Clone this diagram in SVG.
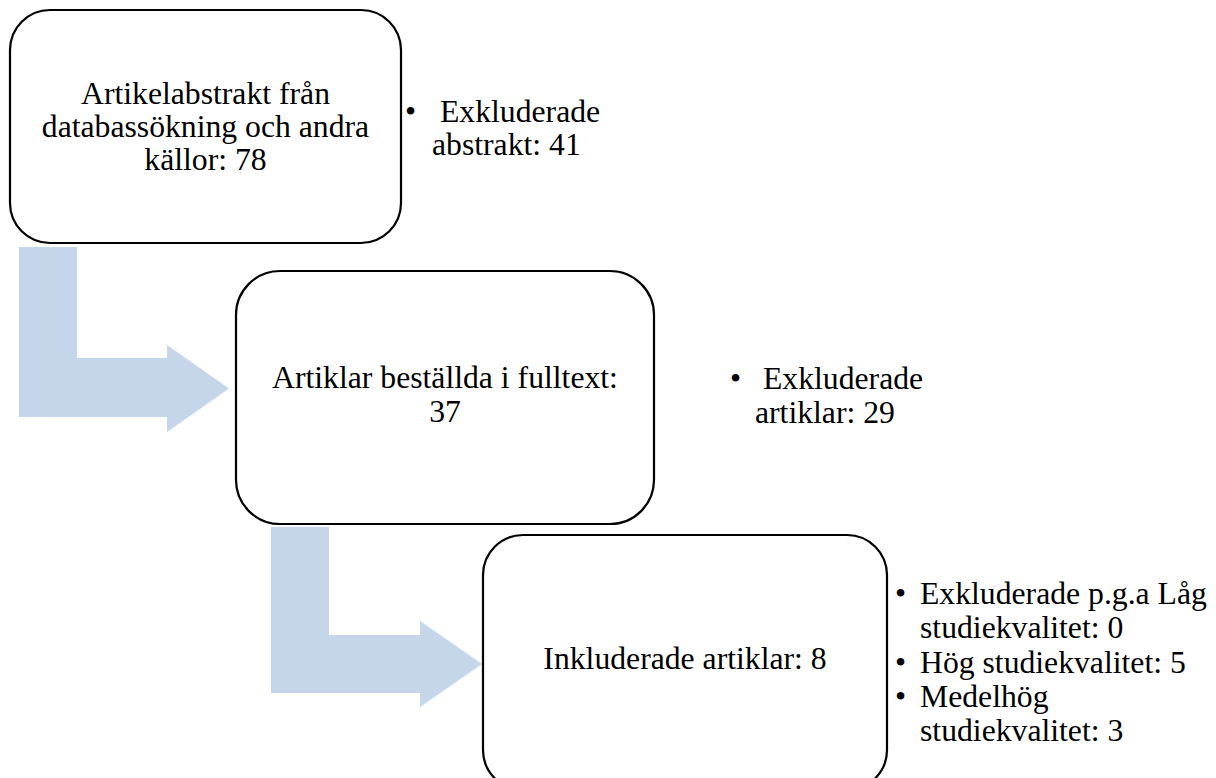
<svg xmlns="http://www.w3.org/2000/svg" width="1216" height="778" viewBox="0 0 1216 778">
<style>
.box{fill:#fff;stroke:#000;stroke-width:2.2}
.arr{fill:#c5d5ea;stroke:none}
text{font-family:"Liberation Serif","Times New Roman",serif;font-size:31.7px;fill:#000}
.c{text-anchor:middle}
</style>
<rect width="1216" height="778" fill="#fff"/>
<g id="connectors">
<polygon class="arr" points="19,247 77,247 77,358 167,358 167,345 229,388.5 167,432 167,417 19,417"/>
<polygon class="arr" points="271,527 329,527 329,635 420,635 420,621 482,664 420,707 420,693 271,693"/>
</g>
<g id="node1">
<rect class="box" x="10" y="10" width="391" height="233" rx="40" ry="40"/>
<text class="c" x="205.5" y="104">Artikelabstrakt från</text>
<text class="c" x="205.5" y="137">databassökning och andra</text>
<text class="c" x="205.5" y="170">källor: 78</text>
</g>
<g id="list1">
<text x="405" y="122">•</text>
<text x="440" y="122">Exkluderade</text>
<text x="432" y="155">abstrakt: 41</text>
</g>
<g id="node2">
<rect class="box" x="236" y="271" width="418" height="253" rx="44" ry="44"/>
<text class="c" x="445" y="388">Artiklar beställda i fulltext:</text>
<text class="c" x="445" y="422">37</text>
</g>
<g id="list2">
<text x="730" y="389">•</text>
<text x="763" y="389">Exkluderade</text>
<text x="755" y="423">artiklar: 29</text>
</g>
<g id="node3">
<rect class="box" x="483" y="535" width="404" height="255" rx="40" ry="40"/>
<text class="c" x="685" y="669">Inkluderade artiklar: 8</text>
</g>
<g id="list3">
<text x="895" y="604">•</text>
<text x="920" y="604">Exkluderade p.g.a Låg</text>
<text x="920" y="638">studiekvalitet: 0</text>
<text x="895" y="673">•</text>
<text x="920" y="673">Hög studiekvalitet: 5</text>
<text x="895" y="707">•</text>
<text x="920" y="707">Medelhög</text>
<text x="920" y="741">studiekvalitet: 3</text>
</g>
</svg>
